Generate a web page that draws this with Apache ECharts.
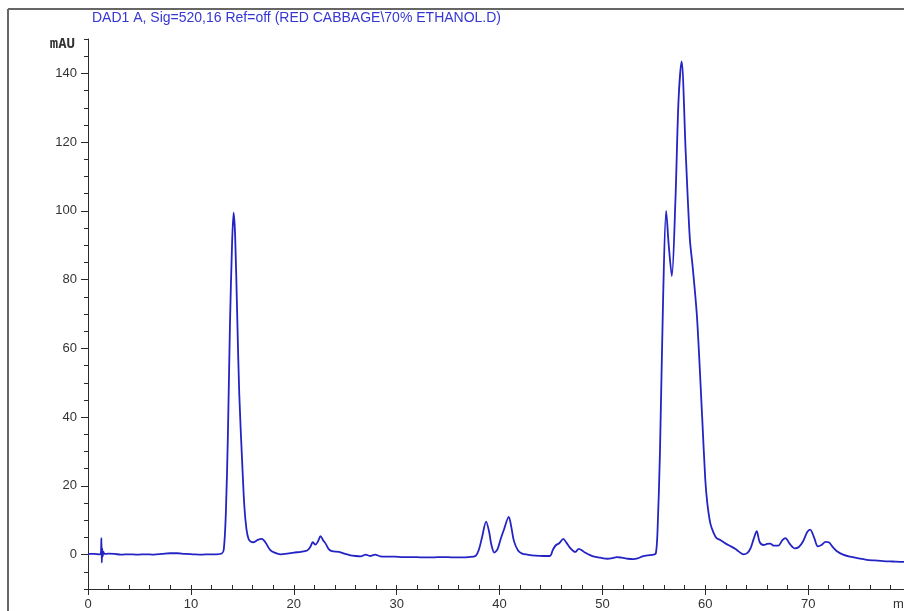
<!DOCTYPE html>
<html><head><meta charset="utf-8">
<script src="https://cdn.jsdelivr.net/npm/echarts/dist/echarts.min.js"></script>
<style>html,body{margin:0;padding:0;background:#fff}#c{width:904px;height:611px}</style>
</head><body><div id="c"></div>
<script>
const chartTitle = 'DAD1 A, Sig=520,16 Ref=off (RED CABBAGE\\70% ETHANOL.D)';
const yUnit = 'mAU';
const xUnit = 'min';
// retention time (min)
const times = [0,0.6,1.1,1.25,1.3,1.34,1.38,1.43,1.5,1.6,2.0,2.6,3.2,4.0,4.8,5.6,6.4,7.2,8.0,8.7,9.4,10.2,11.0,11.8,12.5,13.0,13.2,13.4,13.6,13.8,14.0,14.15,14.3,14.5,14.7,15.0,15.2,15.4,15.6,15.8,16.1,16.5,16.9,17.3,17.7,18.2,18.7,19.4,20.0,20.7,21.3,21.6,21.85,22.1,22.35,22.6,22.85,23.1,23.4,23.7,24.4,25.0,25.5,26.0,26.5,27.0,27.4,27.9,28.4,29.0,29.8,30.6,31.5,32.5,33.5,34.5,35.5,36.3,37.0,37.7,38.0,38.3,38.7,39.0,39.2,39.5,39.8,40.1,40.4,40.9,41.15,41.4,41.8,42.2,42.7,43.5,44.3,44.9,45.2,45.5,45.8,46.2,46.5,46.8,47.2,47.4,47.7,48.0,48.3,48.7,49.1,49.8,50.5,51.0,51.4,51.9,52.5,53.0,53.5,53.9,54.4,55.0,55.2,55.35,55.6,55.9,56.2,56.45,56.75,57.1,57.4,57.7,58.1,58.5,58.8,59.2,59.7,60.0,60.2,60.5,60.8,61.1,61.5,62.0,62.5,62.9,63.3,63.7,64.1,64.4,64.7,65.0,65.3,65.7,66.0,66.3,66.7,67.1,67.5,67.8,68.2,68.7,69.1,69.5,69.9,70.2,70.6,70.95,71.3,71.7,72.0,72.4,72.8,73.4,74.1,74.9,75.7,76.5,77.3,78.2,79.3,80.0];
// absorbance (mAU)
const mau = [0.2,0.2,0.1,0.3,4.8,-2.3,1.8,-0.5,0.8,0.2,0.3,0.2,0.0,0.1,0.0,0.1,0.0,0.2,0.4,0.4,0.2,0.1,0.0,0.1,0.1,0.3,1.5,12,35,67,90,99.5,93,70,47,26,14,7.5,4.6,3.8,3.6,4.3,4.6,3.3,1.4,0.5,0.1,0.3,0.6,0.8,1.2,2.2,3.6,2.9,3.8,5.4,4.2,3.2,1.6,1.0,0.8,0.2,-0.2,-0.4,-0.5,0.0,-0.4,0.0,-0.5,-0.6,-0.6,-0.7,-0.7,-0.8,-0.8,-0.7,-0.8,-0.8,-0.7,-0.3,1.5,5,9.6,6.5,3,0.6,1.5,4.4,7,11,8,4,1.2,0.3,0,-0.3,-0.4,-0.4,1.5,2.8,3.3,4.6,3.5,2.2,1.0,0.8,1.7,1.3,0.6,0.0,-0.5,-0.9,-1.2,-1.0,-0.7,-0.9,-1.2,-1.3,-1.0,-0.5,-0.2,0.0,0.4,6,30,74,100,90,81,103,132,143.5,117,92,83,69,40,22,15,9,6.4,4.8,4.2,3.2,2.4,1.7,0.8,0.1,0.5,1.8,4.5,6.8,3.6,2.8,3.1,3.2,2.6,2.6,4.2,4.8,3.2,1.8,2.2,3.8,6.5,7.3,4.8,2.4,2.8,3.7,3.6,2.2,1.0,0.0,-0.6,-1.1,-1.5,-1.7,-1.9,-2.0,-2.1,-2.1];
const xRange = [0, 80];
const yRange = [-10, 150];

const axisColor = '#2a2a2a';
const font = 'Liberation Sans, Arial, sans-serif';
const chart = echarts.init(document.getElementById('c'), null, {renderer: 'canvas'});
const option = {
  animation: false,
  backgroundColor: '#ffffff',
  title: {
    text: chartTitle, left: 87, top: 6,
    textStyle: {color: '#3636d2', fontSize: 14, fontWeight: 'normal', fontFamily: font}
  },
  grid: {left: 88, top: 39, width: 823, height: 550, outerBoundsMode: 'none', containLabel: false},
  xAxis: [{
    type: 'value', min: xRange[0], max: xRange[1], interval: 10,
    axisLine: {onZero: false, lineStyle: {color: axisColor, width: 1}},
    axisTick: {length: 6, lineStyle: {color: axisColor}},
    axisLabel: {color: '#333', fontSize: 13, margin: 9, fontFamily: font},
    splitLine: {show: false}
  }, {
    type: 'value', min: xRange[0], max: xRange[1], interval: 2, position: 'bottom',
    axisLine: {show: false, onZero: false},
    axisTick: {inside: true, length: 4, lineStyle: {color: axisColor}},
    axisLabel: {show: false}, splitLine: {show: false}
  }],
  yAxis: [{
    type: 'value', min: yRange[0], max: yRange[1], splitNumber: 8,
    name: yUnit, nameLocation: 'end', nameGap: -5,
    nameTextStyle: {align: 'right', verticalAlign: 'middle', padding: [0, 13, 0, 0], color: '#333', fontSize: 14, fontFamily: 'DejaVu Sans Mono', fontWeight: 'bold'},
    axisLine: {show: true, onZero: false, lineStyle: {color: axisColor, width: 1}},
    axisTick: {length: 7, lineStyle: {color: axisColor}},
    axisLabel: {color: '#333', fontSize: 13, margin: 11, fontFamily: font, showMinLabel: false, showMaxLabel: false},
    splitLine: {show: false}
  }, {
    type: 'value', min: yRange[0], max: yRange[1], interval: 5, position: 'left', offset: 0,
    axisLine: {show: false, onZero: false},
    axisTick: {length: 4, lineStyle: {color: axisColor}},
    axisLabel: {show: false}, splitLine: {show: false}
  }],
  graphic: [
    {type: 'line', shape: {x1: 8, y1: 9, x2: 904, y2: 9}, style: {stroke: '#666', lineWidth: 2}},
    {type: 'line', shape: {x1: 8, y1: 9, x2: 8, y2: 611}, style: {stroke: '#666', lineWidth: 2}},
    {type: 'text', left: 893, top: 598, style: {text: xUnit, fill: '#333', fontSize: 13, fontFamily: font}}
  ],
  series: [{
    type: 'line', xAxisIndex: 0, yAxisIndex: 0,
    data: times.map((t, i) => [t, mau[i]]),
    showSymbol: false, smooth: 0.3,
    lineStyle: {color: '#2424c4', width: 1.8}
  }]
};
chart.setOption(option);
</script>
</body></html>
